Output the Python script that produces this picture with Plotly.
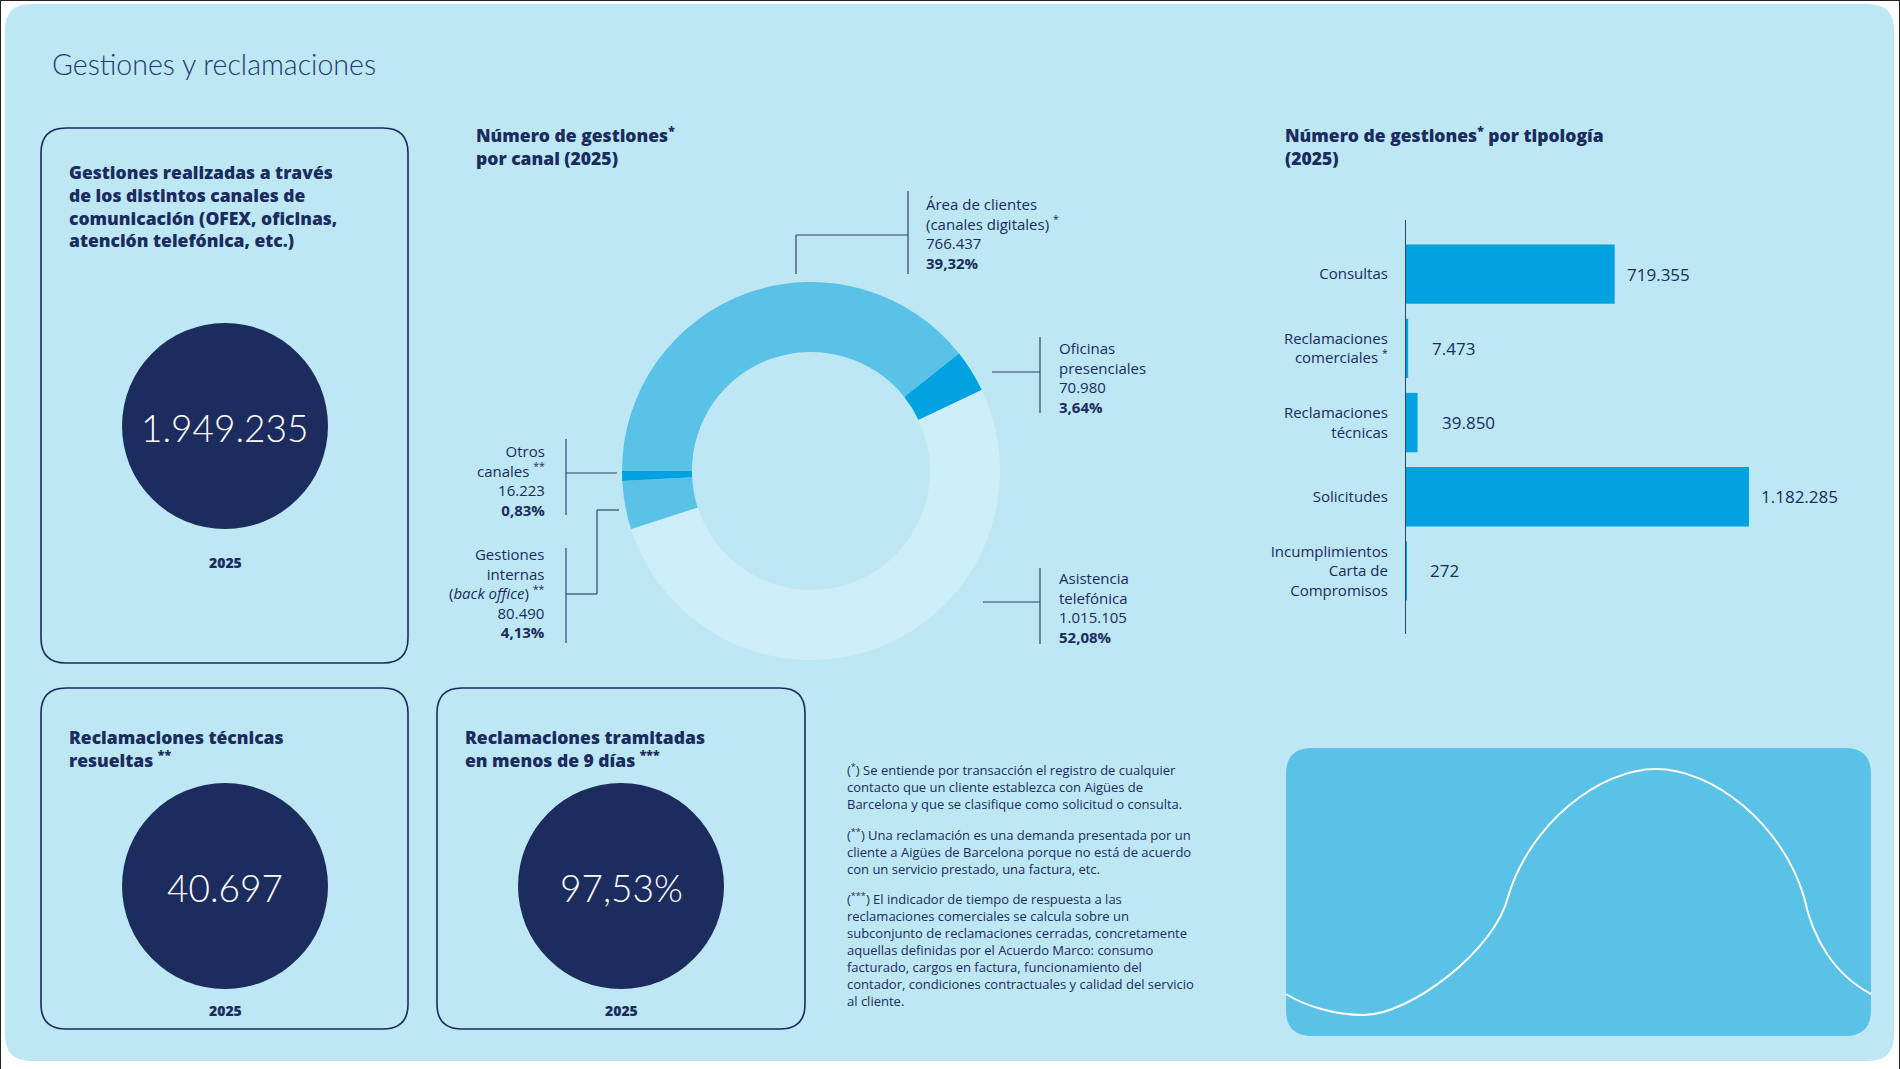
import plotly.graph_objects as go

# --- data -------------------------------------------------------------------
canales = ["Área de clientes<br>(canales digitales) <sup>*</sup>",
           "Oficinas<br>presenciales",
           "Asistencia<br>telefónica",
           "Gestiones<br>internas<br>(<i>back office</i>) <sup>**</sup>",
           "Otros<br>canales <sup>**</sup>"]
gestiones_canal = [766437, 70980, 1015105, 80490, 16223]
pct_canal = ["39,32%", "3,64%", "52,08%", "4,13%", "0,83%"]
colores_canal = ["#5BC2E7", "#00A3E0", "#CDEEF9", "#5BC2E7", "#00A3E0"]

tipologias = ["Consultas",
              "Reclamaciones<br>comerciales <sup>*</sup>",
              "Reclamaciones<br>técnicas",
              "Solicitudes",
              "Incumplimientos<br>Carta de<br>Compromisos"]
gestiones_tipologia = [719355, 7473, 39850, 1182285, 272]

total_gestiones = "1.949.235"
reclamaciones_resueltas = "40.697"
tramitadas_9_dias = "97,53%"
anio = "2025"

notas = [
    "(<sup>*</sup>) Se entiende por transacción el registro de cualquier<br>"
    "contacto que un cliente establezca con Aigües de<br>"
    "Barcelona y que se clasifique como solicitud o consulta.",
    "(<sup>**</sup>) Una reclamación es una demanda presentada por un<br>"
    "cliente a Aigües de Barcelona porque no está de acuerdo<br>"
    "con un servicio prestado, una factura, etc.",
    "(<sup>***</sup>) El indicador de tiempo de respuesta a las<br>"
    "reclamaciones comerciales se calcula sobre un<br>"
    "subconjunto de reclamaciones cerradas, concretamente<br>"
    "aquellas definidas por el Acuerdo Marco: consumo<br>"
    "facturado, cargos en factura, funcionamiento del<br>"
    "contador, condiciones contractuales y calidad del servicio<br>"
    "al cliente.",
]


def miles(v):
    return f"{v:,}".replace(",", ".")


# --- layout helpers (pixel -> paper) ------------------------------------------
W, H = 1900, 1069
NAVY = "#1A2B5F"
FONT = "'Open Sans', Lato, sans-serif"
LIGHT = "Lato, 'Open Sans', sans-serif"


def px(x):
    return x / W


def py(y):
    return 1 - y / H


def pt(x, y):
    return f"{px(x):.5f},{py(y):.5f}"


def rounded(x0, y0, x1, y1, r):
    return (f"M {pt(x0 + r, y0)} L {pt(x1 - r, y0)} Q {pt(x1, y0)} {pt(x1, y0 + r)} "
            f"L {pt(x1, y1 - r)} Q {pt(x1, y1)} {pt(x1 - r, y1)} "
            f"L {pt(x0 + r, y1)} Q {pt(x0, y1)} {pt(x0, y1 - r)} "
            f"L {pt(x0, y0 + r)} Q {pt(x0, y0)} {pt(x0 + r, y0)} Z")


shapes = []
annotations = []


def text(x, y, s, size, weight=400, xanchor="left", align="left", color=NAVY, family=FONT):
    annotations.append(dict(x=px(x), y=py(y), xref="paper", yref="paper", text=s, showarrow=False,
                            xanchor=xanchor, yanchor="middle", align=align,
                            font=dict(family=family, size=size, color=color, weight=weight)))


def line(x0, y0, x1, y1):
    shapes.append(dict(type="line", xref="paper", yref="paper", x0=px(x0), y0=py(y0), x1=px(x1), y1=py(y1),
                       line=dict(color="#2E4370", width=1.2)))


# background panel
shapes.append(dict(type="path", xref="paper", yref="paper", layer="below", path=rounded(5, 4, 1894, 1061, 26),
                   fillcolor="#BEE7F4", line=dict(width=0)))
for x0, y0, x1, y1 in [(0, 0, 0, H), (0, 0, W, 0), (W, 0, W, H)]:
    shapes.append(dict(type="line", xref="paper", yref="paper", x0=px(x0), y0=py(y0), x1=px(x1), y1=py(y1),
                       line=dict(color="#222222", width=2)))

text(50, 64, "Gestiones y reclamaciones", 28.5, weight=300, color="#1F3A70", family=LIGHT)

# KPI boxes
kpis = [
    (41, 128, 408, 663, 67, 206,
     "Gestiones realizadas a través<br>de los distintos canales de<br>comunicación (OFEX, oficinas,<br>atención telefónica, etc.)",
     225, 426, total_gestiones, 562),
    (41, 688, 408, 1029, 67, 748,
     "Reclamaciones técnicas<br>resueltas <sup>**</sup>", 225, 886, reclamaciones_resueltas, 1010),
    (437, 688, 805, 1029, 463, 748,
     "Reclamaciones tramitadas<br>en menos de 9 días <sup>***</sup>", 621, 886, tramitadas_9_dias, 1010),
]
for x0, y0, x1, y1, tx, ty, titulo, cx, cy, valor, yy in kpis:
    shapes.append(dict(type="path", xref="paper", yref="paper", layer="below", path=rounded(x0, y0, x1, y1, 25),
                       fillcolor="rgba(0,0,0,0)", line=dict(color=NAVY, width=1.6)))
    shapes.append(dict(type="circle", xref="paper", yref="paper", x0=px(cx - 103), x1=px(cx + 103),
                       y0=py(cy + 103), y1=py(cy - 103), fillcolor="#1C2C5E", line=dict(width=0)))
    text(tx, ty, titulo, 17.5, weight=800)
    text(cx, cy + 1, valor, 37, weight=300, xanchor="center", align="center", color="white", family=LIGHT)
    text(cx, yy, anio, 14, weight=800, xanchor="center", align="center")

# donut
text(474, 146, "Número de gestiones<sup>*</sup><br>por canal (2025)", 17.5, weight=800)
cx, cy, r = 811, 471, 189
fig = go.Figure()
fig.add_trace(go.Pie(
    labels=["Área de clientes", "Oficinas presenciales", "Asistencia telefónica",
            "Gestiones internas", "Otros canales"],
    values=gestiones_canal, hole=0.63, sort=False, direction="clockwise", rotation=270,
    marker=dict(colors=colores_canal, line=dict(width=0)), textinfo="none",
    domain=dict(x=[px(cx - r), px(cx + r)], y=[py(cy + r), py(cy - r)]),
    showlegend=False, hovertemplate="%{label}: %{value:,}<extra></extra>",
))

# callouts: (text x, text y, anchor, connector segments)
callouts = [
    (924, 234, "left", [(796, 274, 796, 235), (796, 235, 908, 235), (908, 191, 908, 274)]),
    (1057, 378, "left", [(992, 372, 1040, 372), (1040, 337, 1040, 413)]),
    (1057, 607, "left", [(983, 602, 1040, 602), (1040, 568, 1040, 644)]),
    (547, 593, "right", [(619, 510, 597, 510), (597, 510, 597, 594), (597, 594, 566, 594), (566, 548, 566, 643)]),
    (547, 480, "right", [(617, 473, 566, 473), (566, 439, 566, 515)]),
]
for (tx, ty, anc, segs), nombre, v, p in zip(callouts, canales, gestiones_canal, pct_canal):
    for s in segs:
        line(*s)
    text(tx, ty, f"{nombre}<br>{miles(v)}<br><b>{p}</b>", 15, weight=400, xanchor=anc, align=anc)

# bars
text(1283, 146, "Número de gestiones<sup>*</sup> por tipología<br>(2025)", 17.5, weight=800)
fig.add_trace(go.Bar(
    y=tipologias, x=gestiones_tipologia, orientation="h", width=0.8,
    marker=dict(color="#00A3E0", line=dict(width=0)), showlegend=False,
    hovertemplate="%{x:,}<extra></extra>",
))
for cat, v in zip(tipologias, gestiones_tipologia):
    annotations.append(dict(x=v, y=cat, xref="x", yref="y", text=miles(v), showarrow=False,
                            xanchor="left", xshift=10 if v > 100000 else 22,
                            font=dict(family=FONT, size=17, color=NAVY, weight=500)))

# footnotes
for y, nota in zip([786, 851, 949], notas):
    text(845, y, nota, 13, weight=400)

# decorative panel with wave
shapes.append(dict(type="path", xref="paper", yref="paper", path=rounded(1286, 748, 1871, 1036, 26),
                   fillcolor="#5BC2E7", line=dict(width=0), layer="below"))
wave = (f"M {pt(1286, 994)} C {pt(1305, 1006)} {pt(1335, 1015)} {pt(1364, 1015)} "
        f"C {pt(1410, 1015)} {pt(1495, 950)} {pt(1508, 897)} "
        f"C {pt(1530, 823)} {pt(1600, 769)} {pt(1656, 769)} "
        f"C {pt(1712, 769)} {pt(1782, 823)} {pt(1804, 897)} "
        f"C {pt(1813, 940)} {pt(1835, 975)} {pt(1871, 994)}")
shapes.append(dict(type="path", xref="paper", yref="paper", path=wave, line=dict(color="white", width=2)))

fig.update_layout(
    width=W, height=H, margin=dict(l=0, r=0, t=0, b=0),
    paper_bgcolor="white", plot_bgcolor="rgba(0,0,0,0)",
    font=dict(family=FONT, color=NAVY),
    xaxis=dict(domain=[px(1406), px(1880)], range=[0, max(gestiones_tipologia) * 1.382],
               visible=False, fixedrange=True),
    yaxis=dict(domain=[py(634), py(220)], type="category", range=[4.85, -0.73],
               showline=True, linecolor="#2E4370", linewidth=1.2, ticks="", showgrid=False,
               ticklabelstandoff=14, tickfont=dict(family=FONT, size=15, color=NAVY, weight=400),
               fixedrange=True),
    shapes=shapes, annotations=annotations, bargap=0.2,
)

fig.write_html("out.html", config={"displayModeBar": False},
               post_script="document.body.style.margin='0';document.body.style.overflow='hidden';")
